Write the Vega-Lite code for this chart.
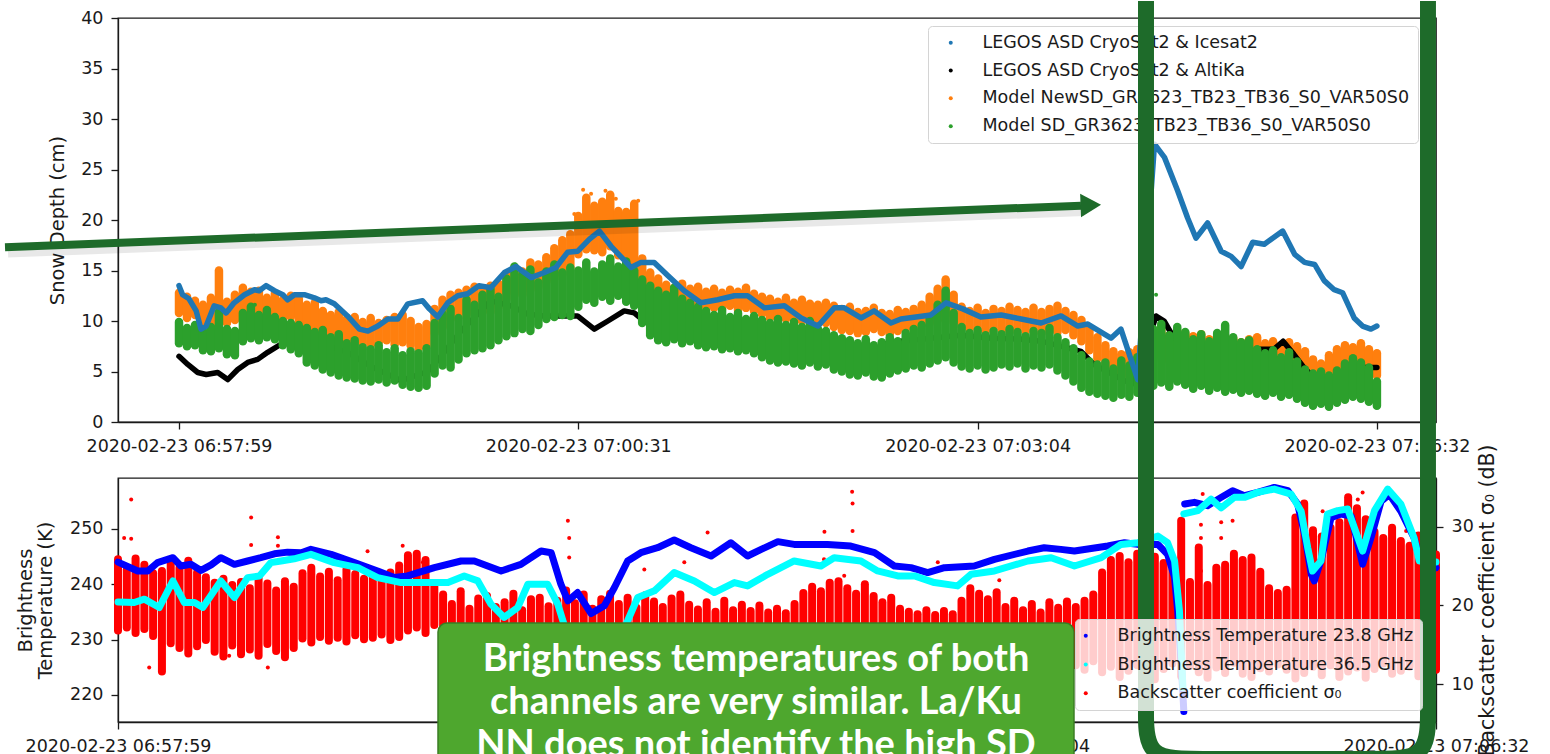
{
"$schema": "https://vega.github.io/schema/vega-lite/v6.json",
"padding": 0,
"background": "white",
"config": {
  "font": "DejaVu Sans",
  "view": {"stroke": "#1a1a1a", "strokeWidth": 1.3},
  "axis": {"labelFont": "DejaVu Sans", "labelFontSize": 17.5, "labelColor": "#1a1a1a", "labelLimit": 400,
           "titleFont": "DejaVu Sans", "titleFontSize": 19.5, "titleFontWeight": "normal", "titleColor": "#1a1a1a",
           "domainColor": "#1a1a1a", "domainWidth": 1.3, "tickColor": "#1a1a1a", "tickWidth": 1.3, "tickSize": 7,
           "labelPadding": 8, "grid": false},
  "legend": {"orient": "none", "title": null, "symbolType": "circle", "symbolSize": 16, "symbolStrokeWidth": 0,
             "labelFont": "DejaVu Sans", "labelFontSize": 17.5, "labelColor": "#1a1a1a", "labelLimit": 600,
             "padding": 8, "strokeColor": "#d4d4d4", "fillColor": "rgba(255,255,255,0.8)", "cornerRadius": 4}
},
"datasets": {
  "icesat2": [{"sample":0,"depth":13.5},{"sample":9,"depth":12.6},{"sample":25,"depth":12.2},{"sample":43,"depth":11.0},{"sample":55,"depth":9.2},{"sample":68,"depth":9.5},{"sample":88,"depth":11.5},{"sample":105,"depth":11.3},{"sample":118,"depth":10.8},{"sample":138,"depth":11.8},{"sample":164,"depth":12.6},{"sample":189,"depth":13.1},{"sample":201,"depth":13.0},{"sample":218,"depth":13.5},{"sample":239,"depth":13.0},{"sample":260,"depth":12.6},{"sample":272,"depth":12.1},{"sample":289,"depth":12.6},{"sample":314,"depth":12.6},{"sample":339,"depth":12.3},{"sample":356,"depth":12.0},{"sample":368,"depth":12.1},{"sample":389,"depth":11.7},{"sample":422,"depth":10.5},{"sample":452,"depth":9.2},{"sample":473,"depth":9.0},{"sample":498,"depth":9.5},{"sample":523,"depth":10.2},{"sample":548,"depth":10.2},{"sample":573,"depth":11.7},{"sample":610,"depth":12.0},{"sample":627,"depth":11.2},{"sample":648,"depth":10.4},{"sample":673,"depth":11.8},{"sample":698,"depth":12.5},{"sample":723,"depth":12.7},{"sample":751,"depth":13.5},{"sample":781,"depth":13.3},{"sample":815,"depth":14.8},{"sample":844,"depth":15.4},{"sample":882,"depth":14.3},{"sample":915,"depth":14.8},{"sample":944,"depth":15.3},{"sample":973,"depth":16.8},{"sample":998,"depth":16.9},{"sample":1028,"depth":18.1},{"sample":1053,"depth":18.9},{"sample":1082,"depth":17.4},{"sample":1132,"depth":15.3},{"sample":1157,"depth":15.8},{"sample":1190,"depth":15.8},{"sample":1224,"depth":14.5},{"sample":1265,"depth":13.0},{"sample":1307,"depth":11.8},{"sample":1349,"depth":12.1},{"sample":1391,"depth":12.5},{"sample":1424,"depth":12.5},{"sample":1466,"depth":11.3},{"sample":1516,"depth":11.5},{"sample":1558,"depth":10.3},{"sample":1600,"depth":9.5},{"sample":1641,"depth":11.3},{"sample":1666,"depth":11.3},{"sample":1708,"depth":10.3},{"sample":1741,"depth":11.0},{"sample":1783,"depth":9.8},{"sample":1808,"depth":10.2},{"sample":1883,"depth":10.6},{"sample":1921,"depth":11.8},{"sample":1963,"depth":11.2},{"sample":2008,"depth":10.4},{"sample":2059,"depth":10.6},{"sample":2109,"depth":10.2},{"sample":2159,"depth":9.8},{"sample":2209,"depth":10.5},{"sample":2251,"depth":9.5},{"sample":2276,"depth":9.7},{"sample":2334,"depth":8.3},{"sample":2359,"depth":9.2},{"sample":2401,"depth":4.2},{"sample":2443,"depth":27.5},{"sample":2468,"depth":26.2},{"sample":2501,"depth":22.9},{"sample":2526,"depth":20.2},{"sample":2547,"depth":18.2},{"sample":2576,"depth":19.7},{"sample":2610,"depth":16.9},{"sample":2635,"depth":16.4},{"sample":2660,"depth":15.4},{"sample":2689,"depth":17.8},{"sample":2718,"depth":17.6},{"sample":2764,"depth":18.9},{"sample":2794,"depth":16.6},{"sample":2819,"depth":15.8},{"sample":2844,"depth":15.6},{"sample":2868,"depth":14.0},{"sample":2893,"depth":13.1},{"sample":2914,"depth":12.8},{"sample":2943,"depth":10.3},{"sample":2964,"depth":9.5},{"sample":2985,"depth":9.2},{"sample":3000,"depth":9.5}],
  "altika": [{"sample":0,"depth":6.5},{"sample":22,"depth":5.7},{"sample":47,"depth":4.9},{"sample":68,"depth":4.7},{"sample":97,"depth":4.9},{"sample":122,"depth":4.2},{"sample":147,"depth":5.2},{"sample":172,"depth":5.9},{"sample":197,"depth":6.2},{"sample":222,"depth":6.9},{"sample":255,"depth":7.7},{"sample":306,"depth":8.0},{"sample":376,"depth":7.5},{"sample":422,"depth":6.9},{"sample":481,"depth":5.5},{"sample":556,"depth":4.1},{"sample":623,"depth":5.0},{"sample":656,"depth":6.5},{"sample":706,"depth":9.0},{"sample":781,"depth":12.0},{"sample":831,"depth":11.5},{"sample":873,"depth":10.7},{"sample":914,"depth":10.5},{"sample":998,"depth":10.5},{"sample":1040,"depth":9.2},{"sample":1074,"depth":10.0},{"sample":1115,"depth":11.0},{"sample":1140,"depth":10.8},{"sample":1165,"depth":10.0},{"sample":1232,"depth":9.3},{"sample":1307,"depth":8.8},{"sample":1383,"depth":8.5},{"sample":1458,"depth":8.4},{"sample":1558,"depth":8.2},{"sample":1640,"depth":8.0},{"sample":1683,"depth":7.4},{"sample":1725,"depth":6.7},{"sample":1766,"depth":7.7},{"sample":1808,"depth":8.0},{"sample":1883,"depth":8.3},{"sample":1958,"depth":8.6},{"sample":2034,"depth":8.3},{"sample":2109,"depth":8.2},{"sample":2159,"depth":8.0},{"sample":2259,"depth":7.0},{"sample":2291,"depth":5.7},{"sample":2367,"depth":4.1},{"sample":2392,"depth":3.8},{"sample":2447,"depth":10.5},{"sample":2467,"depth":10.0},{"sample":2492,"depth":8.3},{"sample":2527,"depth":8.0},{"sample":2559,"depth":7.7},{"sample":2592,"depth":7.0},{"sample":2627,"depth":6.4},{"sample":2660,"depth":6.7},{"sample":2702,"depth":7.2},{"sample":2742,"depth":7.2},{"sample":2765,"depth":8.0},{"sample":2792,"depth":6.7},{"sample":2817,"depth":5.4},{"sample":2842,"depth":4.4},{"sample":2867,"depth":4.1},{"sample":2910,"depth":4.7},{"sample":2943,"depth":5.4},{"sample":2978,"depth":5.4},{"sample":3000,"depth":5.4}],
  "newsd": [{"sample":0,"low":10.8,"high":12.8},{"sample":20,"low":10.3,"high":12.4},{"sample":40,"low":10.6,"high":12.0},{"sample":60,"low":9.6,"high":11.6},{"sample":80,"low":9.4,"high":12.3},{"sample":100,"low":10.2,"high":15.0},{"sample":120,"low":9.8,"high":11.9},{"sample":140,"low":10.1,"high":12.6},{"sample":160,"low":10.7,"high":13.3},{"sample":180,"low":10.9,"high":12.9},{"sample":200,"low":10.5,"high":13.0},{"sample":220,"low":10.6,"high":12.3},{"sample":240,"low":10.8,"high":12.7},{"sample":260,"low":10.2,"high":12.1},{"sample":280,"low":10.4,"high":12.5},{"sample":300,"low":9.9,"high":12.2},{"sample":320,"low":9.4,"high":11.6},{"sample":340,"low":9.1,"high":11.8},{"sample":360,"low":8.9,"high":11.0},{"sample":380,"low":8.4,"high":10.6},{"sample":400,"low":8.0,"high":10.9},{"sample":420,"low":7.9,"high":10.2},{"sample":440,"low":8.3,"high":10.4},{"sample":460,"low":7.8,"high":9.9},{"sample":480,"low":7.6,"high":10.3},{"sample":500,"low":7.9,"high":9.8},{"sample":520,"low":8.1,"high":10.1},{"sample":540,"low":7.7,"high":10.4},{"sample":560,"low":7.9,"high":10.6},{"sample":580,"low":7.6,"high":10.0},{"sample":600,"low":7.3,"high":9.4},{"sample":620,"low":7.5,"high":9.7},{"sample":640,"low":8.8,"high":11.2},{"sample":660,"low":9.4,"high":12.1},{"sample":680,"low":10.2,"high":12.6},{"sample":700,"low":10.4,"high":12.8},{"sample":720,"low":10.8,"high":13.1},{"sample":740,"low":10.6,"high":13.4},{"sample":760,"low":11.0,"high":13.0},{"sample":780,"low":10.9,"high":13.5},{"sample":800,"low":11.4,"high":13.7},{"sample":820,"low":12.2,"high":14.6},{"sample":840,"low":12.8,"high":15.3},{"sample":860,"low":12.6,"high":14.9},{"sample":880,"low":13.1,"high":15.8},{"sample":900,"low":13.4,"high":15.6},{"sample":920,"low":13.9,"high":16.3},{"sample":940,"low":14.2,"high":17.2},{"sample":960,"low":14.6,"high":18.0},{"sample":980,"low":15.3,"high":18.6},{"sample":1000,"low":16.6,"high":20.4},{"sample":1020,"low":17.1,"high":22.2},{"sample":1040,"low":17.0,"high":21.4},{"sample":1060,"low":16.8,"high":21.8},{"sample":1080,"low":17.4,"high":22.5},{"sample":1100,"low":16.5,"high":20.9},{"sample":1120,"low":16.0,"high":20.8},{"sample":1140,"low":15.4,"high":21.6},{"sample":1160,"low":12.8,"high":16.2},{"sample":1180,"low":12.4,"high":14.8},{"sample":1200,"low":11.8,"high":14.2},{"sample":1220,"low":11.5,"high":13.6},{"sample":1240,"low":11.6,"high":13.3},{"sample":1260,"low":11.3,"high":13.7},{"sample":1280,"low":11.4,"high":13.2},{"sample":1300,"low":11.2,"high":13.4},{"sample":1320,"low":11.4,"high":12.9},{"sample":1340,"low":11.3,"high":13.2},{"sample":1360,"low":11.2,"high":12.8},{"sample":1380,"low":11.5,"high":13.1},{"sample":1400,"low":11.1,"high":12.9},{"sample":1420,"low":11.3,"high":13.3},{"sample":1440,"low":11.0,"high":12.7},{"sample":1460,"low":10.7,"high":12.4},{"sample":1480,"low":10.3,"high":12.2},{"sample":1500,"low":10.4,"high":11.9},{"sample":1520,"low":10.2,"high":12.3},{"sample":1540,"low":10.1,"high":11.8},{"sample":1560,"low":10.0,"high":12.1},{"sample":1580,"low":9.9,"high":11.7},{"sample":1600,"low":9.7,"high":11.6},{"sample":1620,"low":9.8,"high":11.8},{"sample":1640,"low":9.4,"high":11.5},{"sample":1660,"low":9.1,"high":11.2},{"sample":1680,"low":9.0,"high":11.4},{"sample":1700,"low":8.8,"high":10.9},{"sample":1720,"low":8.9,"high":11.0},{"sample":1740,"low":9.2,"high":11.3},{"sample":1760,"low":8.9,"high":10.8},{"sample":1780,"low":8.7,"high":10.7},{"sample":1800,"low":9.0,"high":11.1},{"sample":1820,"low":9.2,"high":10.9},{"sample":1840,"low":9.4,"high":11.2},{"sample":1860,"low":9.6,"high":11.6},{"sample":1880,"low":9.8,"high":12.4},{"sample":1900,"low":10.1,"high":13.2},{"sample":1920,"low":10.6,"high":14.1},{"sample":1940,"low":9.9,"high":12.6},{"sample":1960,"low":9.5,"high":11.4},{"sample":1980,"low":9.2,"high":11.0},{"sample":2000,"low":9.4,"high":11.3},{"sample":2020,"low":9.0,"high":10.8},{"sample":2040,"low":9.3,"high":11.2},{"sample":2060,"low":9.1,"high":11.0},{"sample":2080,"low":8.9,"high":11.4},{"sample":2100,"low":9.2,"high":11.1},{"sample":2120,"low":9.0,"high":10.9},{"sample":2140,"low":9.3,"high":11.3},{"sample":2160,"low":8.8,"high":10.9},{"sample":2180,"low":9.0,"high":11.2},{"sample":2200,"low":8.9,"high":11.5},{"sample":2220,"low":9.1,"high":11.0},{"sample":2240,"low":8.6,"high":10.6},{"sample":2260,"low":8.0,"high":10.1},{"sample":2280,"low":7.1,"high":9.3},{"sample":2300,"low":6.3,"high":8.4},{"sample":2320,"low":5.6,"high":7.6},{"sample":2340,"low":5.0,"high":7.0},{"sample":2360,"low":4.8,"high":6.7},{"sample":2380,"low":4.5,"high":6.9},{"sample":2400,"low":4.3,"high":7.2},{"sample":2420,"low":5.0,"high":8.0},{"sample":2440,"low":6.2,"high":9.1},{"sample":2460,"low":6.5,"high":9.4},{"sample":2480,"low":6.0,"high":8.6},{"sample":2500,"low":6.3,"high":9.0},{"sample":2520,"low":6.1,"high":8.8},{"sample":2540,"low":6.4,"high":8.5},{"sample":2560,"low":6.0,"high":8.7},{"sample":2580,"low":5.8,"high":8.2},{"sample":2600,"low":6.2,"high":8.4},{"sample":2620,"low":5.9,"high":8.1},{"sample":2640,"low":5.7,"high":8.3},{"sample":2660,"low":6.0,"high":7.9},{"sample":2680,"low":5.8,"high":8.2},{"sample":2700,"low":5.6,"high":8.4},{"sample":2720,"low":5.5,"high":7.8},{"sample":2740,"low":5.7,"high":8.0},{"sample":2760,"low":5.4,"high":7.6},{"sample":2780,"low":5.6,"high":7.9},{"sample":2800,"low":5.2,"high":7.5},{"sample":2820,"low":4.5,"high":7.0},{"sample":2840,"low":3.9,"high":6.2},{"sample":2860,"low":3.8,"high":5.8},{"sample":2880,"low":4.3,"high":6.6},{"sample":2900,"low":4.6,"high":7.2},{"sample":2920,"low":4.8,"high":7.6},{"sample":2940,"low":4.5,"high":7.4},{"sample":2960,"low":4.7,"high":7.8},{"sample":2980,"low":4.4,"high":7.2},{"sample":3000,"low":4.6,"high":6.8}],
  "sd": [{"sample":0,"low":7.8,"high":9.9},{"sample":20,"low":7.5,"high":9.3},{"sample":40,"low":7.6,"high":9.6},{"sample":60,"low":7.1,"high":9.0},{"sample":80,"low":7.0,"high":9.4},{"sample":100,"low":7.3,"high":10.9},{"sample":120,"low":6.7,"high":9.2},{"sample":140,"low":6.6,"high":9.0},{"sample":160,"low":8.0,"high":10.8},{"sample":180,"low":8.3,"high":11.4},{"sample":200,"low":8.1,"high":10.6},{"sample":220,"low":8.4,"high":11.1},{"sample":240,"low":8.2,"high":10.4},{"sample":260,"low":7.6,"high":10.0},{"sample":280,"low":7.2,"high":9.8},{"sample":300,"low":6.8,"high":9.6},{"sample":320,"low":5.9,"high":9.3},{"sample":340,"low":5.6,"high":8.9},{"sample":360,"low":5.2,"high":9.1},{"sample":380,"low":4.9,"high":8.4},{"sample":400,"low":4.6,"high":8.7},{"sample":420,"low":4.4,"high":7.8},{"sample":440,"low":4.3,"high":8.1},{"sample":460,"low":4.1,"high":7.4},{"sample":480,"low":4.0,"high":7.2},{"sample":500,"low":4.2,"high":7.6},{"sample":520,"low":3.9,"high":6.9},{"sample":540,"low":4.1,"high":7.3},{"sample":560,"low":3.7,"high":6.6},{"sample":580,"low":3.5,"high":7.0},{"sample":600,"low":3.4,"high":6.8},{"sample":620,"low":3.6,"high":7.3},{"sample":640,"low":4.8,"high":9.8},{"sample":660,"low":5.6,"high":10.7},{"sample":680,"low":5.4,"high":11.2},{"sample":700,"low":6.2,"high":10.3},{"sample":720,"low":6.8,"high":12.1},{"sample":740,"low":7.1,"high":11.6},{"sample":760,"low":7.3,"high":12.6},{"sample":780,"low":7.6,"high":13.2},{"sample":800,"low":8.1,"high":12.4},{"sample":820,"low":8.5,"high":14.2},{"sample":840,"low":8.8,"high":15.4},{"sample":860,"low":9.2,"high":14.6},{"sample":880,"low":9.0,"high":15.1},{"sample":900,"low":9.6,"high":13.8},{"sample":920,"low":10.2,"high":14.9},{"sample":940,"low":10.4,"high":15.6},{"sample":960,"low":10.6,"high":14.8},{"sample":980,"low":10.5,"high":15.3},{"sample":1000,"low":11.4,"high":15.0},{"sample":1020,"low":12.1,"high":15.8},{"sample":1040,"low":11.8,"high":14.9},{"sample":1060,"low":12.4,"high":15.6},{"sample":1080,"low":12.0,"high":16.2},{"sample":1100,"low":12.5,"high":15.4},{"sample":1120,"low":11.9,"high":15.9},{"sample":1140,"low":11.5,"high":15.0},{"sample":1160,"low":9.8,"high":14.1},{"sample":1180,"low":8.6,"high":13.5},{"sample":1200,"low":8.1,"high":13.0},{"sample":1220,"low":7.9,"high":12.6},{"sample":1240,"low":8.2,"high":13.3},{"sample":1260,"low":7.8,"high":12.2},{"sample":1280,"low":8.0,"high":11.8},{"sample":1300,"low":7.6,"high":11.4},{"sample":1320,"low":7.4,"high":11.0},{"sample":1340,"low":7.5,"high":10.6},{"sample":1360,"low":7.2,"high":11.1},{"sample":1380,"low":7.3,"high":10.4},{"sample":1400,"low":7.0,"high":10.8},{"sample":1420,"low":7.1,"high":10.2},{"sample":1440,"low":6.8,"high":10.5},{"sample":1460,"low":6.4,"high":10.1},{"sample":1480,"low":6.1,"high":9.8},{"sample":1500,"low":5.9,"high":10.2},{"sample":1520,"low":6.0,"high":9.6},{"sample":1540,"low":5.8,"high":9.9},{"sample":1560,"low":5.6,"high":9.4},{"sample":1580,"low":5.9,"high":10.0},{"sample":1600,"low":5.5,"high":9.2},{"sample":1620,"low":5.7,"high":9.0},{"sample":1640,"low":5.2,"high":8.6},{"sample":1660,"low":5.0,"high":8.3},{"sample":1680,"low":4.7,"high":8.1},{"sample":1700,"low":4.6,"high":7.8},{"sample":1720,"low":4.9,"high":8.2},{"sample":1740,"low":4.5,"high":7.6},{"sample":1760,"low":4.4,"high":7.9},{"sample":1780,"low":4.8,"high":8.4},{"sample":1800,"low":5.1,"high":8.0},{"sample":1820,"low":5.3,"high":8.8},{"sample":1840,"low":5.6,"high":9.2},{"sample":1860,"low":5.4,"high":9.6},{"sample":1880,"low":5.8,"high":10.4},{"sample":1900,"low":6.1,"high":11.6},{"sample":1920,"low":6.4,"high":13.0},{"sample":1940,"low":5.9,"high":10.8},{"sample":1960,"low":5.5,"high":9.4},{"sample":1980,"low":5.3,"high":8.8},{"sample":2000,"low":5.6,"high":9.1},{"sample":2020,"low":5.2,"high":8.6},{"sample":2040,"low":5.4,"high":9.0},{"sample":2060,"low":5.7,"high":8.7},{"sample":2080,"low":5.5,"high":9.2},{"sample":2100,"low":5.8,"high":8.9},{"sample":2120,"low":5.3,"high":8.5},{"sample":2140,"low":5.6,"high":9.0},{"sample":2160,"low":5.4,"high":8.8},{"sample":2180,"low":5.7,"high":9.3},{"sample":2200,"low":5.1,"high":8.4},{"sample":2220,"low":4.6,"high":7.9},{"sample":2240,"low":4.0,"high":7.3},{"sample":2260,"low":3.4,"high":6.6},{"sample":2280,"low":3.0,"high":6.0},{"sample":2300,"low":2.8,"high":5.7},{"sample":2320,"low":2.6,"high":5.9},{"sample":2340,"low":2.4,"high":5.3},{"sample":2360,"low":2.7,"high":6.1},{"sample":2380,"low":2.5,"high":5.6},{"sample":2400,"low":2.9,"high":6.4},{"sample":2420,"low":3.4,"high":7.2},{"sample":2440,"low":3.6,"high":9.2},{"sample":2460,"low":3.9,"high":9.7},{"sample":2480,"low":3.5,"high":8.6},{"sample":2500,"low":4.0,"high":9.4},{"sample":2520,"low":3.7,"high":8.9},{"sample":2540,"low":3.3,"high":8.2},{"sample":2560,"low":3.6,"high":8.7},{"sample":2580,"low":3.1,"high":8.0},{"sample":2600,"low":3.4,"high":8.8},{"sample":2620,"low":3.0,"high":9.6},{"sample":2640,"low":3.2,"high":8.4},{"sample":2660,"low":2.9,"high":7.9},{"sample":2680,"low":3.1,"high":8.1},{"sample":2700,"low":2.8,"high":7.2},{"sample":2720,"low":2.6,"high":6.8},{"sample":2740,"low":2.9,"high":7.1},{"sample":2760,"low":2.5,"high":6.4},{"sample":2780,"low":2.7,"high":6.9},{"sample":2800,"low":2.3,"high":6.0},{"sample":2820,"low":1.9,"high":5.2},{"sample":2840,"low":1.6,"high":4.8},{"sample":2860,"low":1.8,"high":5.0},{"sample":2880,"low":1.5,"high":4.6},{"sample":2900,"low":1.9,"high":5.1},{"sample":2920,"low":2.2,"high":5.8},{"sample":2940,"low":2.5,"high":6.3},{"sample":2960,"low":2.3,"high":5.9},{"sample":2980,"low":2.0,"high":5.4},{"sample":3000,"low":1.6,"high":4.0}],
  "model_outliers": [
    {"series":"Model NewSD_GR3623_TB23_TB36_S0_VAR50S0","sample":96,"depth":15.0},
    {"series":"Model NewSD_GR3623_TB23_TB36_S0_VAR50S0","sample":990,"depth":20.6},
    {"series":"Model NewSD_GR3623_TB23_TB36_S0_VAR50S0","sample":1012,"depth":23.0},
    {"series":"Model NewSD_GR3623_TB23_TB36_S0_VAR50S0","sample":1032,"depth":22.6},
    {"series":"Model NewSD_GR3623_TB23_TB36_S0_VAR50S0","sample":1068,"depth":22.9},
    {"series":"Model NewSD_GR3623_TB23_TB36_S0_VAR50S0","sample":1094,"depth":22.1},
    {"series":"Model NewSD_GR3623_TB23_TB36_S0_VAR50S0","sample":1150,"depth":21.9},
    {"series":"Model NewSD_GR3623_TB23_TB36_S0_VAR50S0","sample":1921,"depth":14.0},
    {"series":"Model SD_GR3623_TB23_TB36_S0_VAR50S0","sample":190,"depth":11.6},
    {"series":"Model SD_GR3623_TB23_TB36_S0_VAR50S0","sample":842,"depth":15.6},
    {"series":"Model SD_GR3623_TB23_TB36_S0_VAR50S0","sample":1923,"depth":13.2},
    {"series":"Model SD_GR3623_TB23_TB36_S0_VAR50S0","sample":2447,"depth":12.6}
  ],
  "tb23": [{"sample":0,"temp":244.0,"part":1},{"sample":45,"temp":242.4,"part":1},{"sample":68,"temp":242.4,"part":1},{"sample":90,"temp":243.9,"part":1},{"sample":125,"temp":244.8,"part":1},{"sample":143,"temp":243.3,"part":1},{"sample":166,"temp":243.6,"part":1},{"sample":189,"temp":242.5,"part":1},{"sample":212,"temp":243.5,"part":1},{"sample":234,"temp":244.8,"part":1},{"sample":265,"temp":243.6,"part":1},{"sample":295,"temp":244.2,"part":1},{"sample":325,"temp":244.8,"part":1},{"sample":356,"temp":245.5,"part":1},{"sample":386,"temp":245.8,"part":1},{"sample":417,"temp":245.7,"part":1},{"sample":439,"temp":246.3,"part":1},{"sample":485,"temp":245.4,"part":1},{"sample":538,"temp":243.9,"part":1},{"sample":591,"temp":242.4,"part":1},{"sample":629,"temp":241.2,"part":1},{"sample":659,"temp":241.5,"part":1},{"sample":720,"temp":243.0,"part":1},{"sample":781,"temp":244.2,"part":1},{"sample":811,"temp":244.2,"part":1},{"sample":872,"temp":242.4,"part":1},{"sample":917,"temp":243.6,"part":1},{"sample":963,"temp":246.0,"part":1},{"sample":986,"temp":245.7,"part":1},{"sample":1008,"temp":240.0,"part":1},{"sample":1024,"temp":237.0,"part":1},{"sample":1046,"temp":238.5,"part":1},{"sample":1077,"temp":234.7,"part":1},{"sample":1107,"temp":236.1,"part":1},{"sample":1130,"temp":239.4,"part":1},{"sample":1160,"temp":244.2,"part":1},{"sample":1190,"temp":245.7,"part":1},{"sample":1228,"temp":246.6,"part":1},{"sample":1266,"temp":248.0,"part":1},{"sample":1304,"temp":246.6,"part":1},{"sample":1350,"temp":245.1,"part":1},{"sample":1395,"temp":247.5,"part":1},{"sample":1433,"temp":245.1,"part":1},{"sample":1464,"temp":246.3,"part":1},{"sample":1502,"temp":247.7,"part":1},{"sample":1539,"temp":247.2,"part":1},{"sample":1615,"temp":247.2,"part":1},{"sample":1668,"temp":246.9,"part":1},{"sample":1722,"temp":245.7,"part":1},{"sample":1767,"temp":243.3,"part":1},{"sample":1805,"temp":243.0,"part":1},{"sample":1843,"temp":242.1,"part":1},{"sample":1881,"temp":243.0,"part":1},{"sample":1949,"temp":243.3,"part":1},{"sample":1995,"temp":244.5,"part":1},{"sample":2071,"temp":246.0,"part":1},{"sample":2108,"temp":246.6,"part":1},{"sample":2146,"temp":246.3,"part":1},{"sample":2177,"temp":246.0,"part":1},{"sample":2253,"temp":246.9,"part":1},{"sample":2291,"temp":247.5,"part":1},{"sample":2321,"temp":247.2,"part":1},{"sample":2367,"temp":247.2,"part":1},{"sample":2389,"temp":245.4,"part":1},{"sample":2405,"temp":241.2,"part":1},{"sample":2412,"temp":235.2,"part":1},{"sample":2420,"temp":226.1,"part":1},{"sample":2426,"temp":217.0,"part":1},{"sample":2428,"temp":254.5,"part":2},{"sample":2450,"temp":254.8,"part":2},{"sample":2480,"temp":254.2,"part":2},{"sample":2511,"temp":255.7,"part":2},{"sample":2537,"temp":256.9,"part":2},{"sample":2564,"temp":256.0,"part":2},{"sample":2594,"temp":256.6,"part":2},{"sample":2632,"temp":257.5,"part":2},{"sample":2663,"temp":256.9,"part":2},{"sample":2685,"temp":254.5,"part":2},{"sample":2701,"temp":249.0,"part":2},{"sample":2716,"temp":241.8,"part":2},{"sample":2723,"temp":240.6,"part":2},{"sample":2738,"temp":244.2,"part":2},{"sample":2761,"temp":252.0,"part":2},{"sample":2784,"temp":252.7,"part":2},{"sample":2807,"temp":252.3,"part":2},{"sample":2833,"temp":243.6,"part":2},{"sample":2852,"temp":248.4,"part":2},{"sample":2875,"temp":255.0,"part":2},{"sample":2894,"temp":256.2,"part":2},{"sample":2920,"temp":253.2,"part":2},{"sample":2950,"temp":248.4,"part":2},{"sample":2962,"temp":244.8,"part":2},{"sample":3000,"temp":243.0,"part":2}],
  "tb36": [{"sample":0,"temp":236.8,"part":1},{"sample":37,"temp":236.7,"part":1},{"sample":60,"temp":237.3,"part":1},{"sample":94,"temp":235.8,"part":1},{"sample":125,"temp":240.6,"part":1},{"sample":151,"temp":236.7,"part":1},{"sample":174,"temp":236.7,"part":1},{"sample":193,"temp":235.8,"part":1},{"sample":234,"temp":240.6,"part":1},{"sample":265,"temp":237.6,"part":1},{"sample":295,"temp":241.2,"part":1},{"sample":322,"temp":241.5,"part":1},{"sample":348,"temp":243.9,"part":1},{"sample":371,"temp":244.2,"part":1},{"sample":401,"temp":244.6,"part":1},{"sample":439,"temp":245.4,"part":1},{"sample":492,"temp":243.9,"part":1},{"sample":546,"temp":243.0,"part":1},{"sample":591,"temp":241.2,"part":1},{"sample":644,"temp":240.3,"part":1},{"sample":690,"temp":240.3,"part":1},{"sample":751,"temp":240.3,"part":1},{"sample":788,"temp":241.5,"part":1},{"sample":819,"temp":240.6,"part":1},{"sample":849,"temp":236.4,"part":1},{"sample":879,"temp":234.0,"part":1},{"sample":910,"temp":235.8,"part":1},{"sample":933,"temp":240.0,"part":1},{"sample":978,"temp":240.0,"part":1},{"sample":1001,"temp":236.4,"part":1},{"sample":1022,"temp":231.0,"part":1},{"sample":1077,"temp":227.5,"part":1},{"sample":1134,"temp":229.0,"part":1},{"sample":1160,"temp":233.4,"part":1},{"sample":1183,"temp":237.6,"part":1},{"sample":1221,"temp":238.8,"part":1},{"sample":1266,"temp":242.1,"part":1},{"sample":1312,"temp":240.6,"part":1},{"sample":1357,"temp":238.5,"part":1},{"sample":1403,"temp":240.3,"part":1},{"sample":1433,"temp":239.7,"part":1},{"sample":1479,"temp":241.8,"part":1},{"sample":1539,"temp":244.2,"part":1},{"sample":1600,"temp":243.3,"part":1},{"sample":1630,"temp":244.8,"part":1},{"sample":1691,"temp":244.2,"part":1},{"sample":1729,"temp":242.4,"part":1},{"sample":1775,"temp":241.5,"part":1},{"sample":1813,"temp":241.5,"part":1},{"sample":1858,"temp":240.3,"part":1},{"sample":1911,"temp":239.7,"part":1},{"sample":1942,"temp":241.8,"part":1},{"sample":1995,"temp":242.4,"part":1},{"sample":2071,"temp":244.2,"part":1},{"sample":2124,"temp":244.8,"part":1},{"sample":2177,"temp":243.3,"part":1},{"sample":2238,"temp":244.8,"part":1},{"sample":2283,"temp":247.2,"part":1},{"sample":2321,"temp":247.5,"part":1},{"sample":2367,"temp":248.7,"part":1},{"sample":2389,"temp":247.5,"part":1},{"sample":2405,"temp":244.2,"part":1},{"sample":2416,"temp":235.2,"part":1},{"sample":2424,"temp":221.3,"part":1},{"sample":2426,"temp":252.7,"part":2},{"sample":2458,"temp":253.3,"part":2},{"sample":2488,"temp":255.4,"part":2},{"sample":2511,"temp":253.8,"part":2},{"sample":2541,"temp":255.7,"part":2},{"sample":2564,"temp":255.7,"part":2},{"sample":2594,"temp":256.6,"part":2},{"sample":2632,"temp":257.2,"part":2},{"sample":2670,"temp":256.3,"part":2},{"sample":2693,"temp":253.2,"part":2},{"sample":2708,"temp":246.6,"part":2},{"sample":2719,"temp":242.4,"part":2},{"sample":2738,"temp":244.2,"part":2},{"sample":2753,"temp":252.7,"part":2},{"sample":2776,"temp":253.3,"part":2},{"sample":2799,"temp":253.6,"part":2},{"sample":2833,"temp":246.0,"part":2},{"sample":2860,"temp":253.3,"part":2},{"sample":2890,"temp":257.2,"part":2},{"sample":2920,"temp":254.5,"part":2},{"sample":2950,"temp":248.4,"part":2},{"sample":2962,"temp":244.2,"part":2},{"sample":3000,"temp":244.0,"part":2}],
  "sigma": [{"sample":0,"low":16.8,"high":25.9},{"sample":20,"low":17.2,"high":24.6},{"sample":40,"low":16.5,"high":26.0},{"sample":60,"low":17.0,"high":25.2},{"sample":80,"low":16.1,"high":24.1},{"sample":100,"low":11.6,"high":24.4},{"sample":120,"low":15.2,"high":25.4},{"sample":140,"low":14.6,"high":24.8},{"sample":160,"low":13.9,"high":25.7},{"sample":180,"low":14.8,"high":24.2},{"sample":200,"low":15.6,"high":23.6},{"sample":220,"low":14.1,"high":22.9},{"sample":240,"low":13.5,"high":23.4},{"sample":260,"low":14.9,"high":22.6},{"sample":280,"low":13.8,"high":23.0},{"sample":300,"low":14.4,"high":22.2},{"sample":320,"low":13.6,"high":23.5},{"sample":340,"low":15.1,"high":22.8},{"sample":360,"low":14.2,"high":21.9},{"sample":380,"low":13.4,"high":23.1},{"sample":400,"low":14.6,"high":22.4},{"sample":420,"low":15.8,"high":24.1},{"sample":440,"low":15.3,"high":24.8},{"sample":460,"low":16.0,"high":23.7},{"sample":480,"low":15.5,"high":24.3},{"sample":500,"low":15.9,"high":23.2},{"sample":520,"low":15.4,"high":24.6},{"sample":540,"low":16.2,"high":24.0},{"sample":560,"low":15.7,"high":23.4},{"sample":580,"low":15.9,"high":24.4},{"sample":600,"low":16.3,"high":23.8},{"sample":620,"low":15.6,"high":24.2},{"sample":640,"low":16.0,"high":25.1},{"sample":660,"low":16.8,"high":26.4},{"sample":680,"low":17.2,"high":26.6},{"sample":700,"low":16.5,"high":25.8},{"sample":720,"low":17.5,"high":22.6},{"sample":740,"low":15.5,"high":21.4},{"sample":760,"low":15.5,"high":20.2},{"sample":780,"low":15.5,"high":21.8},{"sample":800,"low":15.5,"high":19.6},{"sample":820,"low":15.5,"high":20.9},{"sample":840,"low":15.5,"high":21.2},{"sample":860,"low":15.5,"high":19.8},{"sample":880,"low":15.5,"high":20.4},{"sample":900,"low":15.5,"high":21.5},{"sample":920,"low":15.5,"high":19.4},{"sample":940,"low":15.5,"high":20.8},{"sample":960,"low":15.5,"high":21.0},{"sample":980,"low":15.5,"high":19.9},{"sample":1000,"low":15.5,"high":20.6},{"sample":1020,"low":15.5,"high":21.9},{"sample":1040,"low":15.5,"high":20.3},{"sample":1060,"low":15.5,"high":21.4},{"sample":1080,"low":15.5,"high":19.6},{"sample":1100,"low":15.5,"high":20.8},{"sample":1120,"low":15.5,"high":21.5},{"sample":1140,"low":15.5,"high":20.2},{"sample":1160,"low":15.5,"high":21.0},{"sample":1180,"low":15.5,"high":19.7},{"sample":1200,"low":15.5,"high":21.3},{"sample":1220,"low":15.5,"high":20.5},{"sample":1240,"low":15.5,"high":19.8},{"sample":1260,"low":15.5,"high":20.9},{"sample":1280,"low":15.5,"high":21.4},{"sample":1300,"low":15.5,"high":20.1},{"sample":1320,"low":15.5,"high":19.5},{"sample":1340,"low":15.5,"high":20.4},{"sample":1360,"low":15.5,"high":19.2},{"sample":1380,"low":15.5,"high":20.6},{"sample":1400,"low":15.5,"high":19.4},{"sample":1420,"low":15.5,"high":20.1},{"sample":1440,"low":15.5,"high":19.3},{"sample":1460,"low":15.5,"high":20.0},{"sample":1480,"low":15.5,"high":19.1},{"sample":1500,"low":15.5,"high":19.6},{"sample":1520,"low":15.5,"high":19.0},{"sample":1540,"low":15.5,"high":20.2},{"sample":1560,"low":15.5,"high":21.6},{"sample":1580,"low":15.5,"high":22.4},{"sample":1600,"low":15.5,"high":21.8},{"sample":1620,"low":15.5,"high":22.9},{"sample":1640,"low":15.5,"high":23.1},{"sample":1660,"low":15.5,"high":22.2},{"sample":1680,"low":15.5,"high":21.5},{"sample":1700,"low":15.5,"high":22.7},{"sample":1720,"low":15.5,"high":21.2},{"sample":1740,"low":15.5,"high":20.4},{"sample":1760,"low":15.5,"high":21.0},{"sample":1780,"low":15.5,"high":19.6},{"sample":1800,"low":15.5,"high":19.2},{"sample":1820,"low":15.5,"high":18.9},{"sample":1840,"low":15.5,"high":19.4},{"sample":1860,"low":15.5,"high":18.8},{"sample":1880,"low":15.5,"high":19.3},{"sample":1900,"low":15.5,"high":18.9},{"sample":1920,"low":15.5,"high":20.6},{"sample":1940,"low":15.5,"high":22.2},{"sample":1960,"low":15.5,"high":21.5},{"sample":1980,"low":15.5,"high":20.8},{"sample":2000,"low":15.5,"high":21.7},{"sample":2020,"low":15.5,"high":19.8},{"sample":2040,"low":15.5,"high":20.6},{"sample":2060,"low":15.5,"high":19.4},{"sample":2080,"low":15.5,"high":20.2},{"sample":2100,"low":15.5,"high":19.1},{"sample":2120,"low":15.5,"high":20.4},{"sample":2140,"low":15.5,"high":19.7},{"sample":2160,"low":13.2,"high":20.5},{"sample":2180,"low":12.4,"high":19.8},{"sample":2200,"low":11.8,"high":20.6},{"sample":2220,"low":12.9,"high":21.4},{"sample":2240,"low":11.5,"high":24.2},{"sample":2260,"low":12.2,"high":25.8},{"sample":2280,"low":10.9,"high":26.3},{"sample":2300,"low":11.7,"high":25.5},{"sample":2320,"low":12.4,"high":26.6},{"sample":2340,"low":11.2,"high":25.1},{"sample":2360,"low":10.6,"high":26.2},{"sample":2380,"low":11.9,"high":25.4},{"sample":2400,"low":12.6,"high":24.6},{"sample":2420,"low":11.0,"high":30.8},{"sample":2440,"low":12.3,"high":23.0},{"sample":2460,"low":11.5,"high":27.4},{"sample":2480,"low":10.8,"high":22.6},{"sample":2500,"low":12.1,"high":24.8},{"sample":2520,"low":11.4,"high":25.2},{"sample":2540,"low":12.7,"high":26.6},{"sample":2560,"low":11.3,"high":25.8},{"sample":2580,"low":10.9,"high":26.1},{"sample":2600,"low":12.0,"high":24.3},{"sample":2620,"low":11.6,"high":22.2},{"sample":2640,"low":12.5,"high":21.6},{"sample":2660,"low":11.8,"high":22.0},{"sample":2680,"low":10.7,"high":31.2},{"sample":2700,"low":11.4,"high":33.0},{"sample":2720,"low":12.2,"high":29.6},{"sample":2740,"low":11.1,"high":28.8},{"sample":2760,"low":12.4,"high":29.9},{"sample":2780,"low":10.9,"high":30.6},{"sample":2800,"low":11.6,"high":33.8},{"sample":2820,"low":12.1,"high":32.4},{"sample":2840,"low":10.8,"high":31.0},{"sample":2860,"low":11.9,"high":29.4},{"sample":2880,"low":12.6,"high":28.6},{"sample":2900,"low":11.3,"high":29.9},{"sample":2920,"low":11.7,"high":28.2},{"sample":2940,"low":12.2,"high":27.6},{"sample":2960,"low":11.0,"high":28.9},{"sample":2980,"low":12.3,"high":27.1},{"sample":3000,"low":11.8,"high":26.5}],
  "sigma_outliers": [
    {"series":"Backscatter coefficient σ₀","sample":30,"sigma":33.5},{"series":"Backscatter coefficient σ₀","sample":30,"sigma":28.5},{"series":"Backscatter coefficient σ₀","sample":14,"sigma":28.6},{"series":"Backscatter coefficient σ₀","sample":303,"sigma":31.2},{"series":"Backscatter coefficient σ₀","sample":303,"sigma":27.7},{"series":"Backscatter coefficient σ₀","sample":364,"sigma":28.7},{"series":"Backscatter coefficient σ₀","sample":364,"sigma":27.6},{"series":"Backscatter coefficient σ₀","sample":253,"sigma":13.6},{"series":"Backscatter coefficient σ₀","sample":341,"sigma":12.1},{"series":"Backscatter coefficient σ₀","sample":71,"sigma":12.1},{"series":"Backscatter coefficient σ₀","sample":568,"sigma":26.9},{"series":"Backscatter coefficient σ₀","sample":648,"sigma":27.6},{"series":"Backscatter coefficient σ₀","sample":694,"sigma":25.5},{"series":"Backscatter coefficient σ₀","sample":1024,"sigma":30.8},{"series":"Backscatter coefficient σ₀","sample":1027,"sigma":28.6},{"series":"Backscatter coefficient σ₀","sample":1027,"sigma":26.1},{"series":"Backscatter coefficient σ₀","sample":1342,"sigma":29.3},{"series":"Backscatter coefficient σ₀","sample":1608,"sigma":29.4},{"series":"Backscatter coefficient σ₀","sample":1671,"sigma":34.5},{"series":"Backscatter coefficient σ₀","sample":1672,"sigma":33.0},{"series":"Backscatter coefficient σ₀","sample":1672,"sigma":29.5},{"series":"Backscatter coefficient σ₀","sample":1198,"sigma":24.6},{"series":"Backscatter coefficient σ₀","sample":1289,"sigma":25.5},{"series":"Backscatter coefficient σ₀","sample":1866,"sigma":25.5},{"series":"Backscatter coefficient σ₀","sample":2006,"sigma":23.2},{"series":"Backscatter coefficient σ₀","sample":1607,"sigma":25.9},{"series":"Backscatter coefficient σ₀","sample":1653,"sigma":23.8},{"series":"Backscatter coefficient σ₀","sample":2469,"sigma":34.2},{"series":"Backscatter coefficient σ₀","sample":2537,"sigma":30.8},{"series":"Backscatter coefficient σ₀","sample":2511,"sigma":30.6},{"series":"Backscatter coefficient σ₀","sample":2465,"sigma":30.3},{"series":"Backscatter coefficient σ₀","sample":2511,"sigma":28.6},{"series":"Backscatter coefficient σ₀","sample":2465,"sigma":28.6},{"series":"Backscatter coefficient σ₀","sample":2465,"sigma":24.4},{"series":"Backscatter coefficient σ₀","sample":2833,"sigma":34.4},{"series":"Backscatter coefficient σ₀","sample":2799,"sigma":30.6},{"series":"Backscatter coefficient σ₀","sample":2932,"sigma":29.5},{"series":"Backscatter coefficient σ₀","sample":2700,"sigma":33.1},{"series":"Backscatter coefficient σ₀","sample":2822,"sigma":33.5},{"series":"Backscatter coefficient σ₀","sample":2742,"sigma":32.0}
  ],
  "frame_bottom": [
    {"step":1,"sample":2339.9,"depth":-27.62},{"step":2,"sample":2339.9,"depth":-28.42},{"step":3,"sample":2339.9,"depth":-33.37},{"step":4,"sample":2453.7,"depth":-33.37},
    {"step":5,"sample":2868.0,"depth":-33.37},{"step":6,"sample":2981.8,"depth":-33.37},{"step":7,"sample":2981.8,"depth":-28.42},{"step":8,"sample":2981.8,"depth":-27.62}
  ]
},
"bounds": "flush",
"spacing": 56,
"resolve": {"scale": {"x": "independent", "y": "independent", "color": "independent"}},
"vconcat": [
  {
    "width": 1318, "height": 404,
    "layer": [
      {"data": {"name": "newsd"},
       "mark": {"type": "rule", "color": "#ff7f0e", "strokeWidth": 8.5, "strokeCap": "round"},
       "encoding": {
         "x": {"field": "sample", "type": "quantitative", "scale": {"domain": [-152.8, 3148], "nice": false, "zero": false},
               "axis": {"values": [0, 1000, 2000, 3000], "title": null, "labelFlush": false, "labelOverlap": false, "labelBound": false,
                        "labelExpr": "datum.value == 0 ? '2020-02-23 06:57:59' : datum.value == 1000 ? '2020-02-23 07:00:31' : datum.value == 2000 ? '2020-02-23 07:03:04' : '2020-02-23 07:06:32'"}},
         "y": {"field": "low", "type": "quantitative", "scale": {"domain": [0, 40], "nice": false, "zero": false},
               "axis": {"values": [0, 5, 10, 15, 20, 25, 30, 35, 40], "title": "Snow Depth (cm)", "titlePadding": 13}},
         "y2": {"field": "high"}}},
      {"data": {"name": "altika"},
       "mark": {"type": "line", "color": "#000000", "strokeWidth": 5.5, "strokeJoin": "round", "strokeCap": "round"},
       "encoding": {
         "x": {"field": "sample", "type": "quantitative", "scale": {"domain": [-152.8, 3148], "nice": false, "zero": false}},
         "y": {"field": "depth", "type": "quantitative", "scale": {"domain": [0, 40], "nice": false, "zero": false}}}},
      {"data": {"name": "sd"},
       "mark": {"type": "rule", "color": "#2ca02c", "strokeWidth": 8.5, "strokeCap": "round"},
       "encoding": {
         "x": {"field": "sample", "type": "quantitative", "scale": {"domain": [-152.8, 3148], "nice": false, "zero": false}},
         "y": {"field": "low", "type": "quantitative", "scale": {"domain": [0, 40], "nice": false, "zero": false}},
         "y2": {"field": "high"}}},
      {"data": {"name": "model_outliers"},
       "mark": {"type": "point", "filled": true, "size": 16, "opacity": 1},
       "encoding": {
         "x": {"field": "sample", "type": "quantitative", "scale": {"domain": [-152.8, 3148], "nice": false, "zero": false}},
         "y": {"field": "depth", "type": "quantitative", "scale": {"domain": [0, 40], "nice": false, "zero": false}},
         "color": {"field": "series", "type": "nominal",
                   "scale": {"domain": ["LEGOS ASD CryoSat2 & Icesat2", "LEGOS ASD CryoSat2 & AltiKa", "Model NewSD_GR3623_TB23_TB36_S0_VAR50S0", "Model SD_GR3623_TB23_TB36_S0_VAR50S0"],
                             "range": ["#1f77b4", "#000000", "#ff7f0e", "#2ca02c"]},
                   "legend": {"legendX": 810, "legendY": 8, "symbolOffset": 6, "labelOffset": 23, "rowPadding": 8.8}}}},
      {"data": {"name": "icesat2"},
       "mark": {"type": "line", "color": "#1f77b4", "strokeWidth": 5.5, "strokeJoin": "round", "strokeCap": "round"},
       "encoding": {
         "x": {"field": "sample", "type": "quantitative", "scale": {"domain": [-152.8, 3148], "nice": false, "zero": false}},
         "y": {"field": "depth", "type": "quantitative", "scale": {"domain": [0, 40], "nice": false, "zero": false}}}}
    ]
  },
  {
    "width": 1318, "height": 244,
    "resolve": {"scale": {"y": "independent"}},
    "layer": [
      {"data": {"name": "sigma"},
       "mark": {"type": "rule", "color": "#ff0000", "strokeWidth": 8, "strokeCap": "round"},
       "encoding": {
         "x": {"field": "sample", "type": "quantitative", "scale": {"domain": [0, 3000], "nice": false, "zero": false},
               "axis": {"values": [0, 1000, 2000, 3000], "title": null, "labelFlush": false, "labelOverlap": false, "labelBound": false,
                        "labelExpr": "datum.value == 0 ? '2020-02-23 06:57:59' : datum.value == 1000 ? '2020-02-23 07:00:31' : datum.value == 2000 ? '2020-02-23 07:03:04' : '2020-02-23 07:06:32'"}},
         "y": {"field": "low", "type": "quantitative", "scale": {"domain": [5.16, 36.24], "nice": false, "zero": false},
               "axis": {"orient": "right", "values": [10, 20, 30], "title": "Backscatter coefficient σ₀ (dB)", "titleFontSize": 20.5, "titleAngle": 270, "titleBaseline": "top", "titlePadding": 4}},
         "y2": {"field": "high"}}},
      {"data": {"name": "sigma_outliers"},
       "mark": {"type": "point", "filled": true, "size": 16, "opacity": 1},
       "encoding": {
         "x": {"field": "sample", "type": "quantitative", "scale": {"domain": [0, 3000], "nice": false, "zero": false}},
         "y": {"field": "sigma", "type": "quantitative", "scale": {"domain": [5.16, 36.24], "nice": false, "zero": false}, "axis": null},
         "color": {"field": "series", "type": "nominal",
                   "scale": {"domain": ["Brightness Temperature 23.8 GHz", "Brightness Temperature 36.5 GHz", "Backscatter coefficient σ₀"],
                             "range": ["#0000ff", "#00ffff", "#ff0000"]},
                   "legend": {"legendX": 957, "legendY": 141, "symbolOffset": -6, "labelOffset": 23, "rowPadding": 9.8}}}},
      {"data": {"name": "tb23"},
       "mark": {"type": "line", "color": "#0000ff", "strokeWidth": 7, "strokeJoin": "round", "strokeCap": "round"},
       "encoding": {
         "x": {"field": "sample", "type": "quantitative", "scale": {"domain": [0, 3000], "nice": false, "zero": false}},
         "y": {"field": "temp", "type": "quantitative", "scale": {"domain": [215.1, 259.2], "nice": false, "zero": false},
               "axis": {"orient": "left", "values": [220, 230, 240, 250], "title": ["Brightness", "Temperature (K)"], "titlePadding": 14, "titleLineHeight": 20}},
         "detail": {"field": "part", "type": "nominal"}}},
      {"data": {"name": "tb36"},
       "mark": {"type": "line", "color": "#00ffff", "strokeWidth": 7, "strokeJoin": "round", "strokeCap": "round"},
       "encoding": {
         "x": {"field": "sample", "type": "quantitative", "scale": {"domain": [0, 3000], "nice": false, "zero": false}},
         "y": {"field": "temp", "type": "quantitative", "scale": {"domain": [215.1, 259.2], "nice": false, "zero": false}, "axis": null},
         "detail": {"field": "part", "type": "nominal"}}},
      {"data": {"values": [{}]},
       "mark": {"type": "rect", "fill": "#4ea72e", "stroke": "#3a7d24", "strokeWidth": 1.5, "cornerRadius": 9, "clip": false},
       "encoding": {
         "x": {"datum": 728.4, "type": "quantitative", "scale": {"domain": [0, 3000], "nice": false, "zero": false}},
         "x2": {"datum": 2176.0},
         "y": {"datum": -19.9, "type": "quantitative", "scale": {"domain": [-29.703, -5.545], "nice": false, "zero": false}, "axis": null},
         "y2": {"datum": -37.5}}},
      {"data": {"values": [{}]},
       "mark": {"type": "text", "text": ["Brightness temperatures of both", "channels are very similar. La/Ku", "NN does not identify the high SD"],
                "font": "Lato", "fontWeight": "bold", "fontSize": 38, "color": "#ffffff", "align": "center", "baseline": "alphabetic", "lineHeight": 43, "clip": false},
       "encoding": {
         "x": {"datum": 1452.2, "type": "quantitative", "scale": {"domain": [0, 3000], "nice": false, "zero": false}},
         "y": {"datum": -24.65, "type": "quantitative", "scale": {"domain": [-29.703, -5.545], "nice": false, "zero": false}, "axis": null}}},
      {"data": {"values": [{}]},
       "mark": {"type": "rect", "color": "#1e6b2a", "strokeWidth": 0, "clip": false},
       "encoding": {
         "x": {"datum": 2321.7, "type": "quantitative", "scale": {"domain": [0, 3000], "nice": false, "zero": false}},
         "x2": {"datum": 2358.1},
         "y": {"datum": 41.68, "type": "quantitative", "scale": {"domain": [-29.703, -5.545], "nice": false, "zero": false}, "axis": null},
         "y2": {"datum": -28.0}}},
      {"data": {"values": [{}]},
       "mark": {"type": "rect", "color": "#1e6b2a", "strokeWidth": 0, "clip": false},
       "encoding": {
         "x": {"datum": 2963.6, "type": "quantitative", "scale": {"domain": [0, 3000], "nice": false, "zero": false}},
         "x2": {"datum": 2999.9},
         "y": {"datum": 41.68, "type": "quantitative", "scale": {"domain": [-29.703, -5.545], "nice": false, "zero": false}, "axis": null},
         "y2": {"datum": -28.0}}},
      {"data": {"name": "frame_bottom"},
       "mark": {"type": "line", "color": "#1e6b2a", "strokeWidth": 16, "interpolate": "basis", "strokeCap": "butt", "strokeJoin": "round", "clip": false},
       "encoding": {
         "x": {"field": "sample", "type": "quantitative", "scale": {"domain": [0, 3000], "nice": false, "zero": false}},
         "y": {"field": "depth", "type": "quantitative", "scale": {"domain": [-29.703, -5.545], "nice": false, "zero": false}, "axis": null},
         "order": {"field": "step", "type": "quantitative"}}},
      {"data": {"values": [{}]},
       "mark": {"type": "rule", "color": "#000000", "opacity": 0.09, "strokeWidth": 10, "clip": false},
       "encoding": {
         "x": {"datum": -250.4, "type": "quantitative", "scale": {"domain": [0, 3000], "nice": false, "zero": false}},
         "x2": {"datum": 2198.8},
         "y": {"datum": 16.78, "type": "quantitative", "scale": {"domain": [-29.703, -5.545], "nice": false, "zero": false}, "axis": null},
         "y2": {"datum": 20.89}}},
      {"data": {"values": [{}]},
       "mark": {"type": "rule", "color": "#1e6b2a", "strokeWidth": 8, "strokeCap": "butt", "clip": false},
       "encoding": {
         "x": {"datum": -257.2, "type": "quantitative", "scale": {"domain": [0, 3000], "nice": false, "zero": false}},
         "x2": {"datum": 2192.0},
         "y": {"datum": 17.30, "type": "quantitative", "scale": {"domain": [-29.703, -5.545], "nice": false, "zero": false}, "axis": null},
         "y2": {"datum": 21.42}}},
      {"data": {"values": [{}]},
       "mark": {"type": "point", "shape": "triangle-right", "size": 560, "angle": -2.2, "filled": true, "color": "#1e6b2a", "opacity": 1, "clip": false},
       "encoding": {
         "x": {"datum": 2214.3, "type": "quantitative", "scale": {"domain": [0, 3000], "nice": false, "zero": false}},
         "y": {"datum": 21.47, "type": "quantitative", "scale": {"domain": [-29.703, -5.545], "nice": false, "zero": false}, "axis": null}}}
    ]
  }
]
}
